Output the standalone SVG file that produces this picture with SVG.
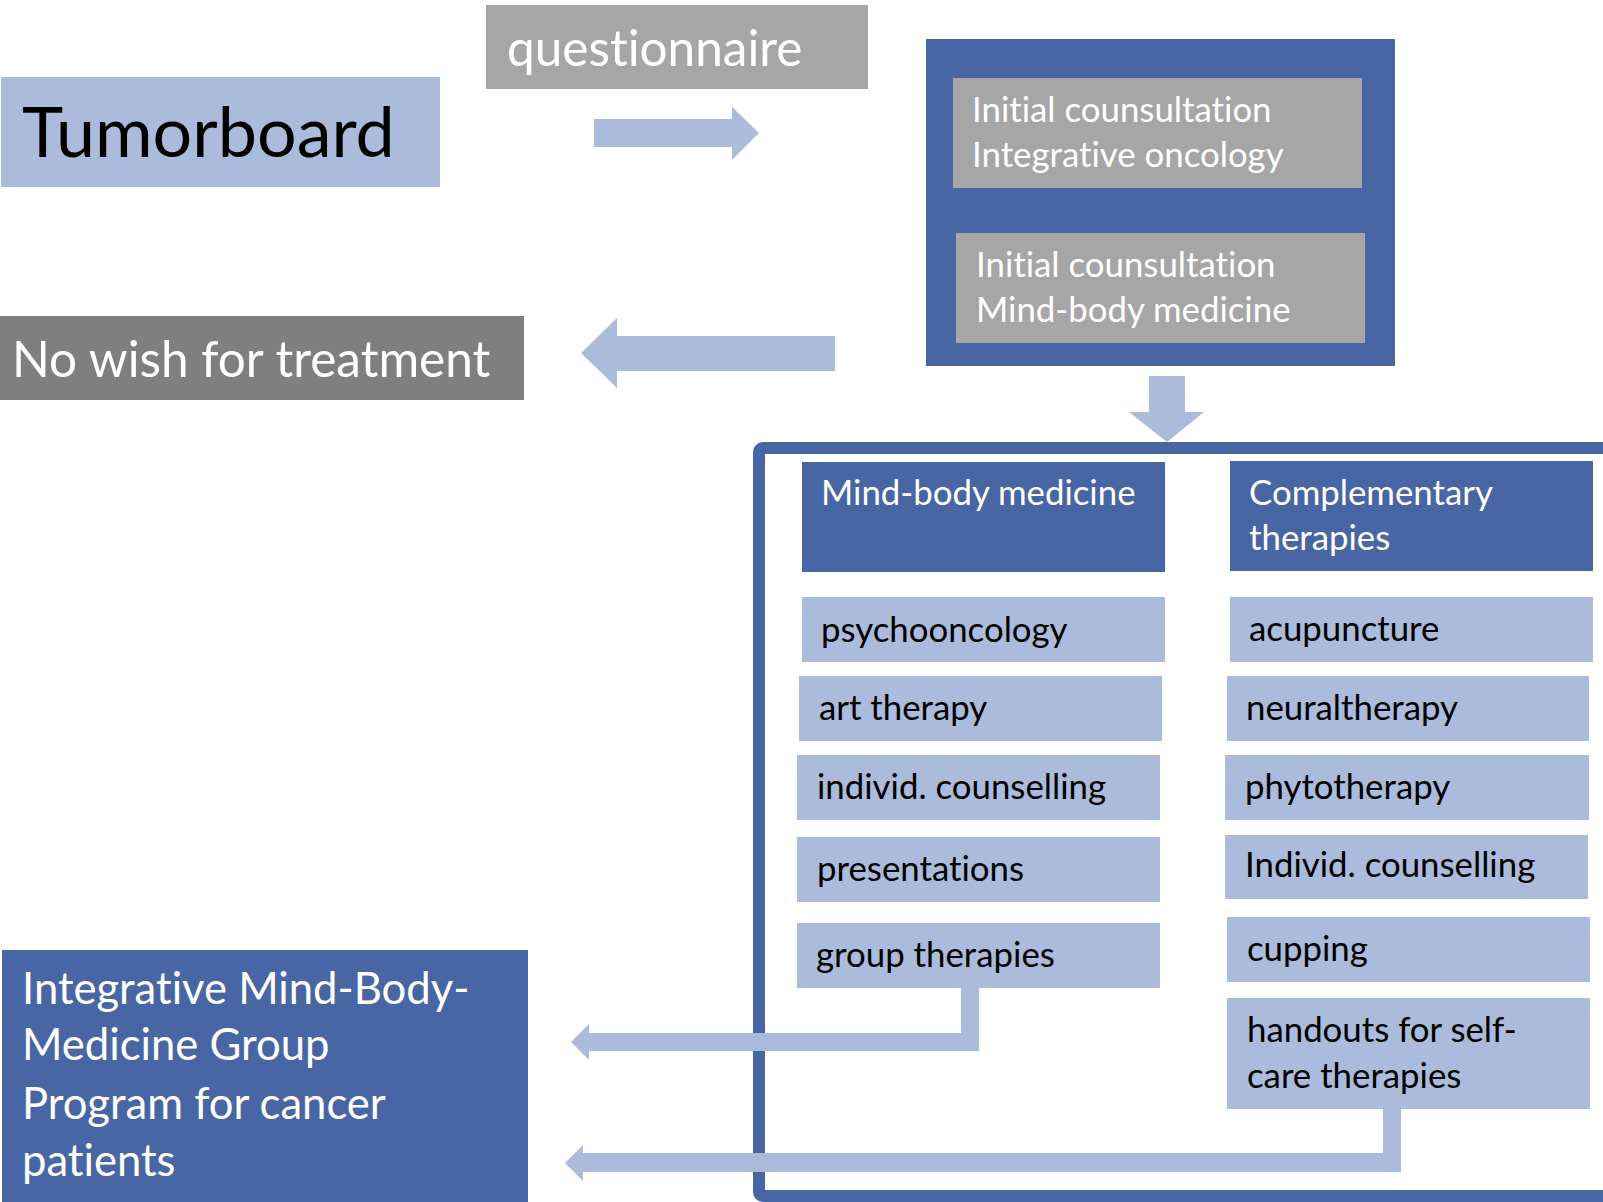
<svg xmlns="http://www.w3.org/2000/svg" width="1603" height="1202" viewBox="0 0 1603 1202">
<style>
text{font-family:Lato,"Open Sans","Liberation Sans",sans-serif;font-variant-ligatures:none;font-feature-settings:"liga" 0,"clig" 0}
.lb{fill:#AABBDB}
.db{fill:#4866A4}
.gr{fill:#A6A6A6}
.dg{fill:#7F7F7F}
.w{fill:#FFFFFF}
.k{fill:#000000}
.s{font-size:34.8px}
.arr{fill:#AABBDB}
</style>
<rect width="1603" height="1202" fill="#FFFFFF"/>
<g id="container">
<rect x="759" y="448" width="870" height="748" rx="4" fill="none" stroke="#4866A4" stroke-width="12"/>
</g>
<g id="questionnaire">
<rect class="gr" x="486" y="5" width="382" height="84"/>
<text class="w" x="507" y="66" font-size="49.5">questionnaire</text>
</g>
<g id="tumorboard">
<rect class="lb" x="1" y="77" width="439" height="110"/>
<text class="k" x="22" y="157" font-size="70">Tumorboard</text>
</g>
<g id="no-wish">
<rect class="dg" x="0" y="316" width="524" height="84"/>
<text class="w" x="12" y="377" font-size="49.5">No wish for treatment</text>
</g>
<g id="initial-consultations">
<rect class="db" x="926" y="39" width="469" height="327"/>
<g id="initial-io">
<rect class="gr" x="953" y="78" width="409" height="110"/>
<text class="w s" x="972" y="122">Initial counsultation</text>
<text class="w s" x="972" y="167">Integrative oncology</text>
</g>
<g id="initial-mbm">
<rect class="gr" x="956" y="233" width="409" height="110"/>
<text class="w s" x="976" y="277">Initial counsultation</text>
<text class="w s" x="976" y="322">Mind-body medicine</text>
</g>
</g>
<g id="mbm-header">
<rect class="db" x="802" y="462" width="363" height="110"/>
<text class="w s" x="821" y="505">Mind-body medicine</text>
</g>
<g id="ct-header">
<rect class="db" x="1230" y="461" width="363" height="110"/>
<text class="w s" x="1249" y="505">Complementary</text>
<text class="w s" x="1249" y="550">therapies</text>
</g>
<g id="psychooncology">
<rect class="lb" x="802" y="597" width="363" height="65"/>
<text class="k s" x="821" y="642">psychooncology</text>
</g>
<g id="acupuncture">
<rect class="lb" x="1230" y="597" width="363" height="65"/>
<text class="k s" x="1249" y="641">acupuncture</text>
</g>
<g id="art-therapy">
<rect class="lb" x="799" y="676" width="363" height="65"/>
<text class="k s" x="819" y="720">art therapy</text>
</g>
<g id="neuraltherapy">
<rect class="lb" x="1227" y="676" width="362" height="65"/>
<text class="k s" x="1246" y="720">neuraltherapy</text>
</g>
<g id="individ-counselling-mbm">
<rect class="lb" x="797" y="755" width="363" height="65"/>
<text class="k s" x="817" y="799">individ. counselling</text>
</g>
<g id="phytotherapy">
<rect class="lb" x="1225" y="755" width="364" height="65"/>
<text class="k s" x="1245" y="799">phytotherapy</text>
</g>
<g id="presentations">
<rect class="lb" x="797" y="837" width="363" height="65"/>
<text class="k s" x="817" y="881">presentations</text>
</g>
<g id="individ-counselling-ct">
<rect class="lb" x="1225" y="835" width="363" height="64"/>
<text class="k s" x="1245" y="877">Individ. counselling</text>
</g>
<g id="group-therapies">
<rect class="lb" x="797" y="923" width="363" height="65"/>
<text class="k s" x="816" y="967">group therapies</text>
</g>
<g id="cupping">
<rect class="lb" x="1227" y="917" width="363" height="65"/>
<text class="k s" x="1247" y="961">cupping</text>
</g>
<g id="handouts">
<rect class="lb" x="1227" y="998" width="363" height="111"/>
<text class="k s" x="1247" y="1042">handouts for self-</text>
<text class="k s" x="1247" y="1088">care therapies</text>
</g>
<g id="group-program">
<rect class="db" x="2" y="950" width="526" height="260"/>
<text class="w" x="22" y="1004" font-size="43.6">Integrative Mind-Body-</text>
<text class="w" x="22" y="1060" font-size="43.6">Medicine Group</text>
<text class="w" x="22" y="1119" font-size="43.6">Program for cancer</text>
<text class="w" x="22" y="1176" font-size="43.6">patients</text>
</g>
<g id="connectors">
<polygon class="arr" points="594,119 732,119 732,107 759,133 732,160 732,147 594,147"/>
<polygon class="arr" points="835,336 617,336 617,318 581,353 617,388 617,371 835,371"/>
<polygon class="arr" points="1149,376 1185,376 1185,412 1204,412 1167,442 1129,412 1149,412"/>
<polygon class="arr" points="961,988 979,988 979,1051 589,1051 589,1060 571,1042 589,1024 589,1033 961,1033"/>
<polygon class="arr" points="1383,1109 1401,1109 1401,1172 583,1172 583,1181 565,1163 583,1145 583,1153 1383,1153"/>
</g>
</svg>
